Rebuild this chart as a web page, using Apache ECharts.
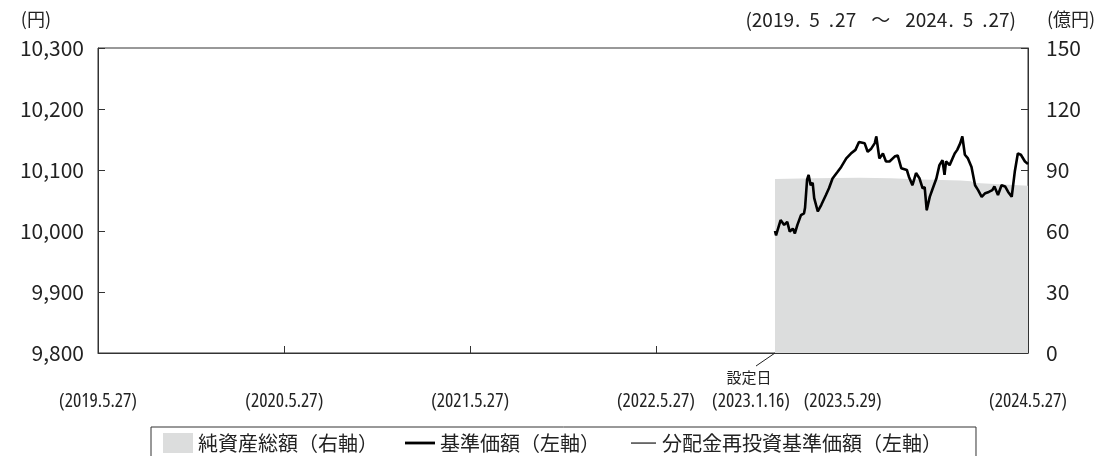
<!DOCTYPE html>
<html><head><meta charset="utf-8">
<script src="https://cdn.jsdelivr.net/npm/echarts@6/dist/echarts.min.js"></script>
<style>html,body{margin:0;padding:0;background:#fff}#c{width:1105px;height:456px}</style>
</head><body><div id="c"></div>
<script>
const priceDates = ['2023-01-16','2023-01-18','2023-01-27','2023-02-03','2023-02-09','2023-02-14','2023-02-20','2023-02-24','2023-03-01','2023-03-08','2023-03-14','2023-03-16','2023-03-20','2023-03-23','2023-03-27','2023-03-31','2023-04-03','2023-04-10','2023-04-17','2023-04-26','2023-05-02','2023-05-09','2023-05-19','2023-05-26','2023-06-05','2023-06-14','2023-06-23','2023-06-30','2023-07-11','2023-07-17','2023-07-24','2023-07-31','2023-08-03','2023-08-09','2023-08-16','2023-08-22','2023-08-29','2023-09-08','2023-09-14','2023-09-21','2023-10-02','2023-10-06','2023-10-13','2023-10-20','2023-10-27','2023-11-02','2023-11-06','2023-11-10','2023-11-16','2023-11-22','2023-11-29','2023-12-05','2023-12-11','2023-12-15','2023-12-18','2023-12-25','2024-01-04','2024-01-09','2024-01-15','2024-01-19','2024-01-24','2024-01-30','2024-02-06','2024-02-13','2024-02-19','2024-02-26','2024-03-04','2024-03-11','2024-03-18','2024-03-22','2024-03-29','2024-04-05','2024-04-12','2024-04-18','2024-04-25','2024-05-01','2024-05-07','2024-05-13','2024-05-21','2024-05-27'];
const priceValues = [10000,9993,10018,10010,10015,9999,10004,9996,10010,10026,10029,10038,10084,10092,10075,10079,10054,10032,10043,10059,10070,10086,10097,10105,10119,10127,10133,10146,10144,10130,10135,10144,10155,10119,10127,10114,10114,10122,10124,10103,10100,10089,10075,10095,10086,10070,10072,10034,10056,10070,10086,10108,10116,10092,10114,10108,10127,10133,10144,10155,10125,10119,10105,10075,10067,10056,10062,10064,10067,10073,10059,10075,10073,10064,10056,10097,10127,10125,10114,10110];
// no distributions were paid: the reinvested NAV is the same as the NAV
const reinvestValues = priceValues.slice();
const assetDates = ['2023-01-16','2023-04-01','2023-07-01','2023-09-01','2023-11-01','2024-01-15','2024-02-05','2024-02-15','2024-04-01','2024-05-27'];
const assetValues = [85.6,85.9,86.2,86.0,85.3,84.8,84.5,83.6,83.0,82.2];
const xLabelDates = ['2019-05-27','2020-05-27','2021-05-27','2022-05-27','2023-01-16','2023-05-29','2024-05-27'];
const xLabelTexts = ['(2019.5.27)','(2020.5.27)','(2021.5.27)','(2022.5.27)','(2023.1.16)','(2023.5.29)','(2024.5.27)'];
const xTickDates = ['2020-05-27','2021-05-27','2022-05-27','2023-01-16','2023-05-29'];
const launchDate = '2023-01-16';
const launchNote = '設定日';
const periodText = '{a|(2019}{p1|.}{a|5}{p2|.}{a|27}{t|〜}{a|2024}{p1|.}{a|5}{p2|.}{a|27)}';
const leftUnit = '(円)';
const rightUnit = '(億円)';
const seriesNames = ['純資産総額（右軸）','基準価額（左軸）','分配金再投資基準価額（左軸）'];

function ts(s){const p=s.split('-');return Date.UTC(+p[0],+p[1]-1,+p[2]);}
const labelMap = {};
xLabelDates.forEach((d,i)=>{labelMap[ts(d)] = xLabelTexts[i];});
const JP = "'Noto Sans CJK JP','Noto Sans',sans-serif";
const JP1 = 'Noto Sans CJK JP';
const TXT = '#222';

// choose the narrowest installed face for the date labels
function pickNarrow(){
  const c = document.createElement('canvas').getContext('2d');
  const sample = xLabelTexts[0];
  const cands = [
    ['normal', "'Liberation Sans Narrow'"],
    ['normal', "'DejaVu Sans Condensed'"],
    ['condensed', "'Open Sans'"],
    ['condensed', "'Noto Sans'"],
    ['condensed', "'DejaVu Sans'"],
    ['condensed', "Roboto"],
    ['condensed', "Inter"],
    ['normal', "'Noto Sans CJK JP'"]
  ];
  let best = null;
  for (const [st, fam] of cands) {
    c.font = '10px serif';
    c.font = st + ' 18px ' + fam + ', monospace';
    if (c.font === '10px serif') continue;
    const w = c.measureText(sample).width;
    c.font = '10px serif';
    c.font = st + ' 18px monospace';
    const wm = c.measureText(sample).width;
    if (Math.abs(w - wm) < 0.01) continue;
    if (!best || w < best.w) best = {st:st, fam:fam, w:w};
  }
  if (!best) best = {st:'normal', fam:"'Noto Sans CJK JP'", w:95};
  const size = Math.min(20, Math.max(15, Math.round(18 * 77 / best.w * 2) / 2));
  return {st:best.st, fam:best.fam + ", sans-serif", size:size};
}
const NF = pickNarrow();
const titleTok = {fontFamily:JP1, fontStyle:'normal', fontWeight:'normal', fontSize:19, color:TXT};

const chart = echarts.init(document.getElementById('c'), null, {renderer:'canvas'});
chart.setOption({
  animation:false,
  backgroundColor:'#fff',
  title:{text:periodText, right:84, top:5,
    textStyle:{fontFamily:JP1, fontStyle:'normal', fontSize:19, fontWeight:'normal', color:TXT,
      rich:{a:Object.assign({}, titleTok),
            p1:Object.assign({padding:[0,9,0,1]}, titleTok),
            p2:Object.assign({padding:[0,1,0,9]}, titleTok),
            t:Object.assign({padding:[0,15,0,15]}, titleTok)}}},
  grid:{left:98, right:77, top:48, bottom:103, show:true, borderColor:'#333', borderWidth:1, containLabel:false, outerBoundsMode:'none'},
  legend:{
    left:151, top:427, orient:'horizontal',
    padding:[6,34,8,12], itemGap:27, itemWidth:30, itemHeight:20,
    borderColor:'#333', borderWidth:1,
    textStyle:{fontFamily:JP, fontSize:20, color:TXT},
    itemStyle:{borderWidth:0},
    data:[
      {name:seriesNames[0], icon:'path://M0,0H30V20H0Z'},
      {name:seriesNames[1], icon:'path://M0,0M0,8.6H30V11.4H0ZM30,20'},
      {name:seriesNames[2], icon:'path://M0,0M4,9.5H29V10.6H4ZM30,20'}
    ]
  },
  xAxis:{
    type:'value', min:ts('2019-05-27'), max:ts('2024-05-27'),
    axisLine:{show:true, lineStyle:{color:'#333', width:1}},
    axisTick:{show:true, inside:true, length:7, lineStyle:{color:'#333'}, customValues:xTickDates.map(ts)},
    splitLine:{show:false},
    axisLabel:{
      customValues:xLabelDates.map(ts), showMinLabel:true, showMaxLabel:true, hideOverlap:false,
      margin:14, lineHeight:22, color:TXT,
      formatter:function(v){
        const t = labelMap[v] || '';
        if (v === ts(launchDate)) return '{sl|'+launchNote+'}\n{dl|'+t+'}';
        return '{s| }\n{d|'+t+'}';
      },
      rich:{
        d:{fontFamily:NF.fam, fontStyle:NF.st, fontSize:NF.size, lineHeight:26, color:TXT},
        dl:{fontFamily:NF.fam, fontStyle:NF.st, fontSize:NF.size, lineHeight:26, color:TXT, padding:[0,48,0,0]},
        s:{fontFamily:JP, fontSize:15, lineHeight:21, color:TXT},
        sl:{fontFamily:JP, fontSize:15, lineHeight:21, color:TXT, padding:[0,52,0,0]}
      }
    }
  },
  yAxis:[
    {type:'value', position:'left', min:9800, max:10300, interval:100,
     name:leftUnit, nameLocation:'end', nameGap:20,
     nameTextStyle:{fontFamily:JP, fontSize:18, color:TXT, align:'right', padding:[0,47,0,0]},
     axisLine:{show:true, lineStyle:{color:'#333'}},
     axisTick:{show:true, inside:true, length:7, lineStyle:{color:'#333'}},
     splitLine:{show:false},
     axisLabel:{margin:14, fontFamily:JP, fontSize:21, color:TXT, formatter:v=>v.toLocaleString('en-US')}},
    {type:'value', position:'right', min:0, max:150, interval:30,
     name:rightUnit, nameLocation:'end', nameGap:20,
     nameTextStyle:{fontFamily:JP, fontSize:18, color:TXT, align:'left', padding:[0,0,0,19]},
     axisLine:{show:true, lineStyle:{color:'#333'}},
     axisTick:{show:true, inside:true, length:7, lineStyle:{color:'#333'}},
     splitLine:{show:false},
     axisLabel:{margin:18, fontFamily:JP, fontSize:21, color:TXT}}
  ],
  series:[
    {name:seriesNames[0], type:'line', yAxisIndex:1, z:1, symbol:'none', showSymbol:false,
     color:'#dcdddd', lineStyle:{width:0, color:'#dcdddd'}, areaStyle:{color:'#dcdddd', opacity:1},
     data:assetDates.map((d,i)=>[ts(d), assetValues[i]])},
    {name:seriesNames[2], type:'line', yAxisIndex:0, z:2, symbol:'none', showSymbol:false,
     color:'#000', lineStyle:{width:1, color:'#000'},
     data:priceDates.map((d,i)=>[ts(d), reinvestValues[i]])},
    {name:seriesNames[1], type:'line', yAxisIndex:0, z:3, symbol:'none', showSymbol:false,
     color:'#000', lineStyle:{width:2.6, color:'#000'},
     data:priceDates.map((d,i)=>[ts(d), priceValues[i]])}
  ]
});
const px = chart.convertToPixel({xAxisIndex:0}, ts(launchDate));
const py = chart.convertToPixel({yAxisIndex:0}, 9800);
chart.setOption({graphic:[{type:'line', silent:true, z:10,
  shape:{x1:px, y1:py, x2:px-19, y2:py+13}, style:{stroke:'#222', lineWidth:1}}]});
</script></body></html>
